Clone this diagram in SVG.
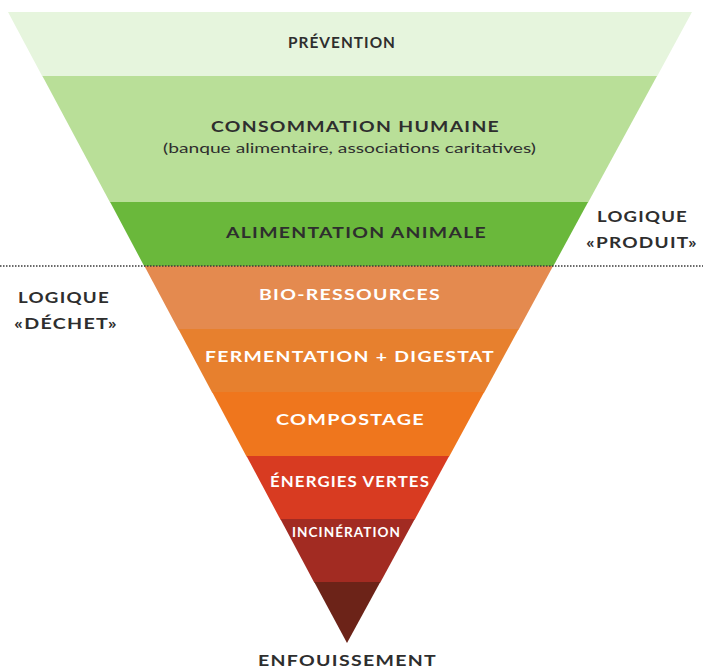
<svg xmlns="http://www.w3.org/2000/svg" width="703" height="669" viewBox="0 0 703 669">
<style>
.t{font-family:Lato,"Liberation Sans",sans-serif;font-weight:700;font-size:15px;text-anchor:middle;letter-spacing:1px}
.d{fill:#2e2e2e}
.w{fill:#ffffff}
.s{font-family:Lato,"Liberation Sans",sans-serif;font-weight:400;font-size:13px;text-anchor:middle;fill:#2e2e2e}
</style>
<rect width="703" height="669" fill="#ffffff"/>
<g id="prevention">
<polygon points="8,12 692,12 657,76.5 42.4,76.5" fill="#e6f5dd"/>
<text class="t d" x="342" y="48" textLength="108" lengthAdjust="spacingAndGlyphs">PRÉVENTION</text>
</g>
<g id="consommation">
<polygon points="42.4,76 657,76 588.1,202.5 110.1,202.5" fill="#b9df98"/>
<text class="t d" x="355.5" y="132" textLength="289" lengthAdjust="spacingAndGlyphs">CONSOMMATION HUMAINE</text>
<text class="s" x="349.5" y="153" textLength="373" lengthAdjust="spacingAndGlyphs">(banque alimentaire, associations caritatives)</text>
</g>
<g id="alimentation">
<polygon points="110.1,202 588.1,202 553.1,266.5 144.4,266.5" fill="#6ab83b"/>
<text class="t d" x="356.5" y="238" textLength="261" lengthAdjust="spacingAndGlyphs">ALIMENTATION ANIMALE</text>
</g>
<g id="bio-ressources">
<polygon points="144.4,266 553.1,266 518.7,329.5 178.3,329.5" fill="#e48a4f"/>
<text class="t w" x="350" y="300" textLength="182" lengthAdjust="spacingAndGlyphs">BIO-RESSOURCES</text>
</g>
<g id="fermentation">
<polygon points="178.3,329 518.7,329 484.2,392.5 212.1,392.5" fill="#e7802e"/>
<text class="t w" x="350" y="362" textLength="290" lengthAdjust="spacingAndGlyphs">FERMENTATION + DIGESTAT</text>
</g>
<g id="compostage">
<polygon points="212.1,392 484.2,392 449.2,456.5 246.5,456.5" fill="#ef761d"/>
<text class="t w" x="350.5" y="425" textLength="149" lengthAdjust="spacingAndGlyphs">COMPOSTAGE</text>
</g>
<g id="energies-vertes">
<polygon points="246.5,456 449.2,456 414.8,519.5 280.4,519.5" fill="#d83b21"/>
<text class="t w" x="350" y="487" textLength="160" lengthAdjust="spacingAndGlyphs">ÉNERGIES VERTES</text>
</g>
<g id="incineration">
<polygon points="280.4,519 414.8,519 380.3,582.5 314.2,582.5" fill="#a22b22"/>
<text class="t w" x="346.5" y="537" style="font-size:13px" textLength="109" lengthAdjust="spacingAndGlyphs">INCINÉRATION</text>
</g>
<g id="enfouissement">
<polygon points="314.2,582 380.3,582 347,643" fill="#6c2318"/>
<text class="t d" x="347.5" y="666" textLength="179" lengthAdjust="spacingAndGlyphs">ENFOUISSEMENT</text>
</g>
<g id="separators">
<line x1="0" y1="266" x2="703" y2="266" stroke="#3a3a3a" stroke-width="1.5" stroke-dasharray="1.5 1.5"/>
</g>
<g id="logique-produit">
<text class="t d" x="642.5" y="222" textLength="91" lengthAdjust="spacingAndGlyphs">LOGIQUE</text>
<text class="t d" x="642" y="248" textLength="112" lengthAdjust="spacingAndGlyphs">«PRODUIT»</text>
</g>
<g id="logique-dechet">
<text class="t d" x="64" y="303" textLength="92" lengthAdjust="spacingAndGlyphs">LOGIQUE</text>
<text class="t d" x="66" y="329" textLength="104" lengthAdjust="spacingAndGlyphs">«DÉCHET»</text>
</g>
</svg>
